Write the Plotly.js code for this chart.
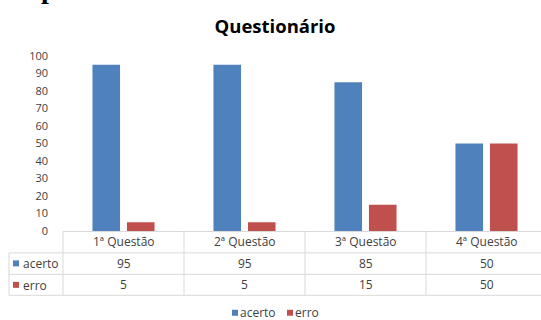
<!DOCTYPE html>
<html>
<head>
<meta charset="utf-8">
<script src="https://cdn.plot.ly/plotly-3.0.1.min.js"></script>
<style>html,body{margin:0;padding:0;background:#fff;}#chart{width:541px;height:320px;}</style>
</head>
<body>
<div id="chart"></div>
<script>
// ---- data ----
const categories = ["1ª Questão", "2ª Questão", "3ª Questão", "4ª Questão"];
const seriesNames = ["acerto", "erro"];
const acerto = [95, 95, 85, 50];
const erro = [5, 5, 15, 50];
const yTicks = [0, 10, 20, 30, 40, 50, 60, 70, 80, 90, 100];
const chartTitle = "Questionário";

// ---- styling / geometry ----
const colors = ["#4F81BD", "#C0504D"];
const W = 541, H = 320;
const L = 63, R = 0, T = 55.5, B = 89;
const plotW = W - L - R, plotH = H - T - B;
const catW = 121; // px per category
const xmax = -0.5 + plotW / catW;
const px2x = p => (p - L) / plotW;          // pixel -> paper x
const py2y = p => (H - B - p) / plotH;      // pixel -> paper y
const font = "Open Sans, Noto Sans, sans-serif";
const grid = "#D9D9D9";
const txt = "#404040";

const series = [acerto, erro];
const traces = series.map((vals, i) => ({
  type: "bar",
  x: categories,
  y: vals,
  name: seriesNames[i],
  marker: {color: colors[i]},
  showlegend: false,
  hoverinfo: "skip"
}));

const shapes = [];
const line = {color: grid, width: 1};
shapes.push({type: "line", xref: "paper", yref: "paper", x0: px2x(63), x1: px2x(W + 10), y0: py2y(231.5), y1: py2y(231.5), line});
[253, 274.5, 295.5].forEach(p => shapes.push({type: "line", xref: "paper", yref: "paper", x0: px2x(9), x1: px2x(W + 10), y0: py2y(p), y1: py2y(p), line}));
shapes.push({type: "line", xref: "paper", yref: "paper", x0: px2x(9), x1: px2x(9), y0: py2y(253), y1: py2y(295.5), line});
for (let k = 0; k < categories.length; k++) {
  const p = L + k * catW;
  shapes.push({type: "line", xref: "paper", yref: "paper", x0: px2x(p), x1: px2x(p), y0: py2y(231.5), y1: py2y(295.5), line});
}

const annotations = [];
const rowY = [py2y(242), py2y(264), py2y(285)];
categories.forEach((c, k) => {
  annotations.push({xref: "x", yref: "paper", x: c, y: rowY[0], text: c, showarrow: false,
    font: {family: font, size: 12, color: txt}, xanchor: "center", yanchor: "middle"});
  series.forEach((vals, i) => {
    annotations.push({xref: "x", yref: "paper", x: c, y: rowY[i + 1], text: String(vals[k]), showarrow: false,
      font: {family: font, size: 12, color: txt}, xanchor: "center", yanchor: "middle"});
  });
});
seriesNames.forEach((n, i) => {
  const yc = 264 + i * 21.5;
  shapes.push({type: "rect", xref: "paper", yref: "paper", x0: px2x(13), x1: px2x(19), y0: py2y(yc - 3.5), y1: py2y(yc + 2.5),
    fillcolor: colors[i], line: {width: 0}});
  annotations.push({xref: "paper", yref: "paper", x: px2x(21), y: py2y(yc), text: n, showarrow: false,
    font: {family: font, size: 12, color: txt}, xanchor: "left", yanchor: "middle"});
});
const legY = 313;
let lx = 232;
seriesNames.forEach((n, i) => {
  shapes.push({type: "rect", xref: "paper", yref: "paper", x0: px2x(lx), x1: px2x(lx + 6), y0: py2y(legY - 3), y1: py2y(legY + 3),
    fillcolor: colors[i], line: {width: 0}});
  annotations.push({xref: "paper", yref: "paper", x: px2x(lx + 6), y: py2y(legY), text: n, showarrow: false,
    font: {family: font, size: 12, color: txt}, xanchor: "left", yanchor: "middle"});
  lx += 55;
});
// cut-off glyph from the surrounding document at the top-left edge
annotations.push({xref: "paper", yref: "paper", x: px2x(49), y: py2y(5), text: "<b>p</b>", showarrow: false,
  font: {family: "Liberation Serif, serif", size: 28, color: "#000"}, xanchor: "center", yanchor: "bottom"});

const layout = {
  width: W, height: H,
  margin: {l: L, r: R, t: T, b: B, pad: 0},
  paper_bgcolor: "#fff", plot_bgcolor: "#fff",
  title: {text: "<b>" + chartTitle + "</b>", font: {family: font, size: 18.5, color: "#000"},
    x: 275 / W, xanchor: "center", y: 1 - 27 / H, yanchor: "middle"},
  barmode: "group",
  bargap: 0.43,
  bargroupgap: 0.2,
  xaxis: {range: [-0.5, xmax], showticklabels: false, showgrid: false, zeroline: false, showline: false, ticks: "", fixedrange: true},
  yaxis: {range: [0, 100], tickvals: yTicks, showgrid: false, zeroline: false, showline: false, ticks: "",
    ticklabelstandoff: 14, tickfont: {family: font, size: 11, color: txt}, fixedrange: true},
  shapes, annotations,
  showlegend: false
};

Plotly.newPlot("chart", traces, layout, {displayModeBar: false, staticPlot: true});
</script>
</body>
</html>
